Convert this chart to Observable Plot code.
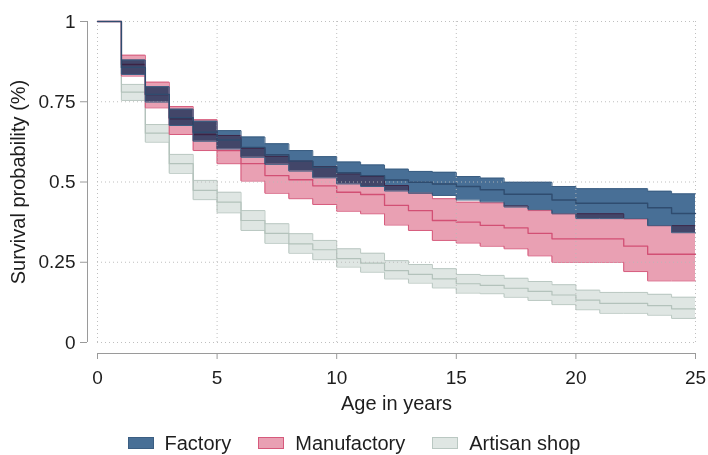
<!DOCTYPE html>
<html><head><meta charset="utf-8">
<script src="https://cdn.jsdelivr.net/npm/d3@7"></script>
<script src="https://cdn.jsdelivr.net/npm/@observablehq/plot@0.6"></script>
<style>
body{margin:0;background:#fff;font-family:"Liberation Sans",Arial,sans-serif;}
#legend{display:flex;justify-content:center;align-items:center;gap:27px;height:30px;font-size:20px;color:#1e1e1e;width:708px;}
.item{display:flex;align-items:center;gap:11px}
.sw{width:24px;height:10px;border:1px solid}
</style></head><body>
<div id="chart"></div><div id="legend"></div>
<script>
// Years at which each step starts (step holds until next year); curves end at 25
const years = [0,1,2,3,4,5,6,7,8,9,10,11,12,13,14,15,16,17,18,19,20,21,22,23,24];
const endYear = 25;
const xTicks = [0,5,10,15,20,25];
const yTicks = [0,0.25,0.5,0.75,1];
const groups = ["Factory","Manufactory","Artisan shop"];

const factoryHi  = [1,0.88,0.797,0.727,0.689,0.66,0.64,0.619,0.598,0.579,0.562,0.553,0.54,0.533,0.53,0.517,0.512,0.499,0.499,0.486,0.479,0.479,0.479,0.471,0.463];
const factoryEst = [1,0.857,0.773,0.70,0.655,0.631,0.608,0.585,0.565,0.546,0.529,0.52,0.506,0.499,0.494,0.486,0.476,0.462,0.462,0.444,0.434,0.434,0.434,0.42,0.402];
const factoryLo  = [1,0.835,0.749,0.676,0.627,0.603,0.577,0.555,0.534,0.513,0.494,0.486,0.472,0.465,0.458,0.444,0.438,0.422,0.414,0.401,0.386,0.386,0.386,0.364,0.342];

const manuHi  = [1,0.895,0.811,0.735,0.694,0.645,0.605,0.58,0.565,0.548,0.525,0.517,0.489,0.465,0.448,0.437,0.435,0.425,0.411,0.401,0.401,0.401,0.385,0.364,0.364];
const manuEst = [1,0.866,0.772,0.697,0.648,0.598,0.557,0.52,0.507,0.488,0.468,0.461,0.427,0.411,0.38,0.375,0.365,0.357,0.34,0.323,0.323,0.323,0.30,0.275,0.275];
const manuLo  = [1,0.83,0.731,0.648,0.598,0.557,0.503,0.465,0.448,0.43,0.409,0.401,0.366,0.349,0.318,0.31,0.30,0.292,0.27,0.25,0.25,0.25,0.221,0.192,0.192];

const artisanHi  = [1,0.804,0.679,0.586,0.505,0.468,0.411,0.37,0.339,0.318,0.292,0.278,0.255,0.243,0.23,0.212,0.209,0.2,0.19,0.18,0.163,0.156,0.156,0.15,0.141];
const artisanEst = [1,0.78,0.652,0.557,0.474,0.437,0.38,0.34,0.307,0.289,0.261,0.247,0.224,0.212,0.198,0.183,0.178,0.169,0.159,0.148,0.132,0.122,0.122,0.115,0.105];
const artisanLo  = [1,0.754,0.624,0.527,0.445,0.404,0.349,0.309,0.278,0.258,0.235,0.219,0.198,0.185,0.17,0.154,0.152,0.141,0.131,0.118,0.102,0.091,0.091,0.085,0.075];

const colors = {
  "Factory":      {fill:"#486f96", line:"#3b5e82", est:"#2f4c6f"},
  "Manufactory":  {fill:"#e9a0b3", line:"#d65a7c", est:"#d24f74"},
  "Artisan shop": {fill:"#dfe6e3", line:"#bac8c2", est:"#b3c2bb"}
};

function rows(lo, est, hi) {
  const r = years.map((t, i) => ({t, lo: lo[i], est: est[i], hi: hi[i]}));
  const n = years.length - 1;
  r.push({t: endYear, lo: lo[n], est: est[n], hi: hi[n]});
  return r;
}
const fac = rows(factoryLo, factoryEst, factoryHi);
const man = rows(manuLo, manuEst, manuHi);
const art = rows(artisanLo, artisanEst, artisanHi);

function bandLines(data, c, w) {
  return [
    Plot.lineY(data, {x:"t", y:"lo", curve:"step-after", stroke:c.line, strokeWidth:1}),
    Plot.lineY(data, {x:"t", y:"hi", curve:"step-after", stroke:c.line, strokeWidth:1}),
    Plot.lineY(data, {x:"t", y:"est", curve:"step-after", stroke:c.est, strokeWidth:w})
  ];
}

const cA = colors["Artisan shop"], cM = colors["Manufactory"], cF = colors["Factory"];

const chart = Plot.plot({
  width: 708,
  height: 428,
  marginLeft: 97,
  marginRight: 13,
  marginTop: 21,
  marginBottom: 86,
  style: {fontFamily: '"Liberation Sans", Arial, sans-serif', color: "#1e1e1e", background: "#fff"},
  x: {domain: [0, endYear]},
  y: {domain: [0, 1]},
  marks: [
    Plot.areaY(art, {x:"t", y1:"lo", y2:"hi", curve:"step-after", fill:cA.fill}),
    ...bandLines(art, cA, 1.2),
    Plot.areaY(man, {x:"t", y1:"lo", y2:"hi", curve:"step-after", fill:cM.fill}),
    ...bandLines(man, cM, 1.3),
    Plot.areaY(fac, {x:"t", y1:"lo", y2:"hi", curve:"step-after", fill:cF.fill, mixBlendMode:"multiply"}),
    Plot.gridX(xTicks, {stroke:"#b8b8b8", strokeOpacity:0.9, strokeDasharray:"1,3"}),
    Plot.gridY(yTicks, {stroke:"#b8b8b8", strokeOpacity:0.9, strokeDasharray:"1,3"}),
    ...bandLines(fac, cF, 1.4),
    Plot.ruleX([0], {dx:-10, stroke:"#9a9a9a"}),
    Plot.ruleY([0], {dy:11, stroke:"#9a9a9a"}),
    Plot.axisY(yTicks, {tickFormat: d => String(d), dx:-10, tickSize:7, tickPadding:5, fontSize:19, stroke:"#9a9a9a", label:null}),
    Plot.axisX(xTicks, {tickFormat: d => String(d), dy:11, tickSize:6, tickPadding:11, fontSize:19, stroke:"#9a9a9a", label:null}),
    Plot.text(["Survival probability (%)"], {frameAnchor:"left", rotate:-90, dx:-79, textAnchor:"middle", lineAnchor:"middle", fontSize:20, fill:"#1e1e1e"}),
    Plot.text(["Age in years"], {frameAnchor:"bottom", dy:61, textAnchor:"middle", lineAnchor:"middle", fontSize:20, fill:"#1e1e1e"})
  ]
});
document.getElementById("chart").appendChild(chart);

const legend = document.getElementById("legend");
for (const g of groups) {
  const item = document.createElement("div");
  item.className = "item";
  const sw = document.createElement("span");
  sw.className = "sw";
  sw.style.background = colors[g].fill;
  sw.style.borderColor = colors[g].line;
  const lab = document.createElement("span");
  lab.textContent = g;
  item.appendChild(sw); item.appendChild(lab);
  legend.appendChild(item);
}
</script>
</body></html>
